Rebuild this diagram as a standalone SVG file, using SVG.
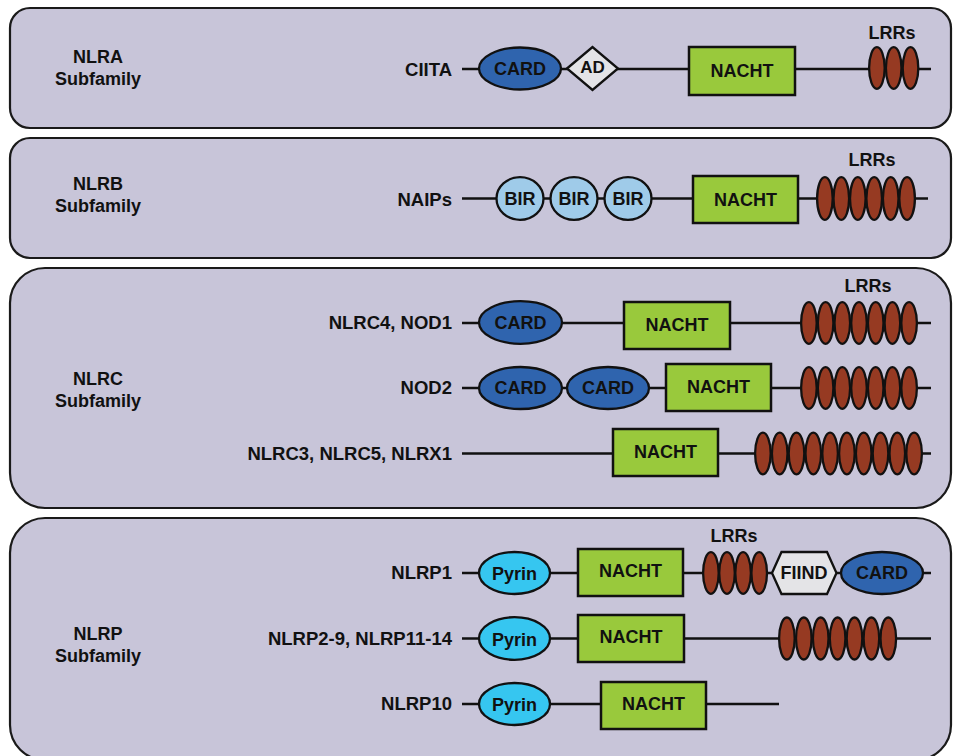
<svg xmlns="http://www.w3.org/2000/svg" width="953" height="756" viewBox="0 0 953 756">
<style>
  .panel { fill: #c8c5d9; stroke: #1a1a1a; stroke-width: 2.2; }
  .t { font-family: "Liberation Sans", Arial, sans-serif; font-weight: bold; font-size: 18px; fill: #111; }
  .fam { text-anchor: middle; }
  .lbl { text-anchor: end; font-size: 18.5px; }
  .c { text-anchor: middle; dominant-baseline: central; }
  .bb { stroke: #111; stroke-width: 2.5; fill: none; }
  .card { fill: #2f64ae; stroke: #111; stroke-width: 2.3; }
  .nacht { fill: #99c93c; stroke: #111; stroke-width: 2.5; }
  .lrr { fill: #963a22; stroke: #111; stroke-width: 2.3; }
  .bir { fill: #9fcbe9; stroke: #111; stroke-width: 2.3; }
  .pyrin { fill: #36c6f0; stroke: #111; stroke-width: 2.3; }
  .grey { fill: #e4e4e7; stroke: #111; stroke-width: 2.3; }
</style>

<g id="panels">
  <g id="panel-nlra">
    <rect class="panel" x="10" y="8" width="941" height="120" rx="20"/>
    <text class="t fam" x="98" y="63">NLRA</text>
    <text class="t fam" x="98" y="85">Subfamily</text>
  </g>
  <g id="panel-nlrb">
    <rect class="panel" x="10" y="138" width="941" height="120" rx="20"/>
    <text class="t fam" x="98" y="190">NLRB</text>
    <text class="t fam" x="98" y="212">Subfamily</text>
  </g>
  <g id="panel-nlrc">
    <rect class="panel" x="10" y="268" width="941" height="240" rx="35"/>
    <text class="t fam" x="98" y="385">NLRC</text>
    <text class="t fam" x="98" y="407">Subfamily</text>
  </g>
  <g id="panel-nlrp">
    <rect class="panel" x="10" y="518" width="941" height="242" rx="35"/>
    <text class="t fam" x="98" y="640">NLRP</text>
    <text class="t fam" x="98" y="662">Subfamily</text>
  </g>
</g>

<g id="connectors">
  <line class="bb" x1="462" y1="69" x2="931" y2="69"/>
  <line class="bb" x1="462" y1="198.5" x2="928" y2="198.5"/>
  <line class="bb" x1="462" y1="323" x2="931" y2="323"/>
  <line class="bb" x1="462" y1="388" x2="931" y2="388"/>
  <line class="bb" x1="462" y1="453.5" x2="931" y2="453.5"/>
  <line class="bb" x1="462" y1="573" x2="931" y2="573"/>
  <line class="bb" x1="462" y1="638.5" x2="931" y2="638.5"/>
  <line class="bb" x1="462" y1="704" x2="779" y2="704"/>
</g>

<g id="row-ciita">
  <text class="t lbl" x="452" y="76">CIITA</text>
  <g id="ciita-card"><ellipse class="card" cx="520" cy="68.5" rx="41" ry="21"/><text class="t c" x="520" y="68.5">CARD</text></g>
  <g id="ciita-ad"><polygon class="grey" points="567,68.5 592.5,47 618,68.5 592.5,90"/><text class="t c" x="592.5" y="67" style="font-size:17px">AD</text></g>
  <g id="ciita-nacht"><rect class="nacht" x="689" y="47" width="106" height="48"/><text class="t c" x="742" y="71">NACHT</text></g>
  <g id="ciita-lrrs">
    <text class="t fam" x="892" y="39">LRRs</text>
    <ellipse class="lrr" cx="876.9" cy="68" rx="7.8" ry="20.8"/>
    <ellipse class="lrr" cx="893.7" cy="68" rx="7.8" ry="20.8"/>
    <ellipse class="lrr" cx="910.5" cy="68" rx="7.8" ry="20.8"/>
  </g>
</g>

<g id="row-naips">
  <text class="t lbl" x="452" y="206">NAIPs</text>
  <g id="naips-bir1"><ellipse class="bir" cx="520" cy="198.5" rx="23.5" ry="21.3"/><text class="t c" x="520" y="199">BIR</text></g>
  <g id="naips-bir2"><ellipse class="bir" cx="574" cy="198.5" rx="23.5" ry="21.3"/><text class="t c" x="574" y="199">BIR</text></g>
  <g id="naips-bir3"><ellipse class="bir" cx="628" cy="198.5" rx="23.5" ry="21.3"/><text class="t c" x="628" y="199">BIR</text></g>
  <g id="naips-nacht"><rect class="nacht" x="693" y="176" width="105" height="47"/><text class="t c" x="745.5" y="200">NACHT</text></g>
  <g id="naips-lrrs">
    <text class="t fam" x="872" y="166">LRRs</text>
    <ellipse class="lrr" cx="824.9" cy="198.5" rx="7.8" ry="21.3"/>
    <ellipse class="lrr" cx="841.3" cy="198.5" rx="7.8" ry="21.3"/>
    <ellipse class="lrr" cx="857.8" cy="198.5" rx="7.8" ry="21.3"/>
    <ellipse class="lrr" cx="874.2" cy="198.5" rx="7.8" ry="21.3"/>
    <ellipse class="lrr" cx="890.7" cy="198.5" rx="7.8" ry="21.3"/>
    <ellipse class="lrr" cx="907.1" cy="198.5" rx="7.8" ry="21.3"/>
  </g>
</g>

<g id="row-nlrc4">
  <text class="t lbl" x="452" y="329">NLRC4, NOD1</text>
  <g id="nlrc4-card"><ellipse class="card" cx="520.5" cy="322.5" rx="41.5" ry="21.3"/><text class="t c" x="520.5" y="322.5">CARD</text></g>
  <g id="nlrc4-nacht"><rect class="nacht" x="624" y="302" width="106" height="47"/><text class="t c" x="677" y="325">NACHT</text></g>
  <g id="nlrc4-lrrs">
    <text class="t fam" x="868" y="292">LRRs</text>
    <ellipse class="lrr" cx="808.9" cy="323" rx="7.8" ry="20.8"/>
    <ellipse class="lrr" cx="825.6" cy="323" rx="7.8" ry="20.8"/>
    <ellipse class="lrr" cx="842.3" cy="323" rx="7.8" ry="20.8"/>
    <ellipse class="lrr" cx="859.0" cy="323" rx="7.8" ry="20.8"/>
    <ellipse class="lrr" cx="875.7" cy="323" rx="7.8" ry="20.8"/>
    <ellipse class="lrr" cx="892.4" cy="323" rx="7.8" ry="20.8"/>
    <ellipse class="lrr" cx="909.1" cy="323" rx="7.8" ry="20.8"/>
  </g>
</g>

<g id="row-nod2">
  <text class="t lbl" x="452" y="394">NOD2</text>
  <g id="nod2-card1"><ellipse class="card" cx="520.5" cy="388" rx="41.5" ry="21"/><text class="t c" x="520.5" y="388">CARD</text></g>
  <g id="nod2-card2"><ellipse class="card" cx="608" cy="388" rx="41" ry="21"/><text class="t c" x="608" y="388">CARD</text></g>
  <g id="nod2-nacht"><rect class="nacht" x="666" y="364" width="105" height="47"/><text class="t c" x="718.5" y="387">NACHT</text></g>
  <g id="nod2-lrrs">
    <ellipse class="lrr" cx="808.9" cy="388" rx="7.8" ry="20.8"/>
    <ellipse class="lrr" cx="825.6" cy="388" rx="7.8" ry="20.8"/>
    <ellipse class="lrr" cx="842.3" cy="388" rx="7.8" ry="20.8"/>
    <ellipse class="lrr" cx="859.0" cy="388" rx="7.8" ry="20.8"/>
    <ellipse class="lrr" cx="875.7" cy="388" rx="7.8" ry="20.8"/>
    <ellipse class="lrr" cx="892.4" cy="388" rx="7.8" ry="20.8"/>
    <ellipse class="lrr" cx="909.1" cy="388" rx="7.8" ry="20.8"/>
  </g>
</g>

<g id="row-nlrc3">
  <text class="t lbl" x="452" y="460">NLRC3, NLRC5, NLRX1</text>
  <g id="nlrc3-nacht"><rect class="nacht" x="613" y="429" width="105" height="47"/><text class="t c" x="665.5" y="452">NACHT</text></g>
  <g id="nlrc3-lrrs">
    <ellipse class="lrr" cx="762.9" cy="453.5" rx="7.8" ry="20.8"/>
    <ellipse class="lrr" cx="779.7" cy="453.5" rx="7.8" ry="20.8"/>
    <ellipse class="lrr" cx="796.5" cy="453.5" rx="7.8" ry="20.8"/>
    <ellipse class="lrr" cx="813.3" cy="453.5" rx="7.8" ry="20.8"/>
    <ellipse class="lrr" cx="830.1" cy="453.5" rx="7.8" ry="20.8"/>
    <ellipse class="lrr" cx="846.9" cy="453.5" rx="7.8" ry="20.8"/>
    <ellipse class="lrr" cx="863.7" cy="453.5" rx="7.8" ry="20.8"/>
    <ellipse class="lrr" cx="880.5" cy="453.5" rx="7.8" ry="20.8"/>
    <ellipse class="lrr" cx="897.3" cy="453.5" rx="7.8" ry="20.8"/>
    <ellipse class="lrr" cx="914.1" cy="453.5" rx="7.8" ry="20.8"/>
  </g>
</g>

<g id="row-nlrp1">
  <text class="t lbl" x="452" y="579">NLRP1</text>
  <g id="nlrp1-pyrin"><ellipse class="pyrin" cx="514.5" cy="573" rx="35.5" ry="21"/><text class="t c" x="514.5" y="574">Pyrin</text></g>
  <g id="nlrp1-nacht"><rect class="nacht" x="578" y="549" width="105" height="47"/><text class="t c" x="630.5" y="571">NACHT</text></g>
  <g id="nlrp1-lrrs">
    <text class="t fam" x="734" y="542">LRRs</text>
    <ellipse class="lrr" cx="710.9" cy="573" rx="7.8" ry="20.8"/>
    <ellipse class="lrr" cx="727.0" cy="573" rx="7.8" ry="20.8"/>
    <ellipse class="lrr" cx="743.1" cy="573" rx="7.8" ry="20.8"/>
    <ellipse class="lrr" cx="759.2" cy="573" rx="7.8" ry="20.8"/>
  </g>
  <g id="nlrp1-fiind"><polygon class="grey" points="772,573 781.5,552 827,552 836.5,573 827,594 781.5,594"/><text class="t c" x="804" y="573">FIIND</text></g>
  <g id="nlrp1-card"><ellipse class="card" cx="882" cy="573" rx="41" ry="21"/><text class="t c" x="882" y="573">CARD</text></g>
</g>

<g id="row-nlrp2">
  <text class="t lbl" x="452" y="645">NLRP2-9, NLRP11-14</text>
  <g id="nlrp2-pyrin"><ellipse class="pyrin" cx="514.5" cy="638.5" rx="35.5" ry="21.3"/><text class="t c" x="514.5" y="639.5">Pyrin</text></g>
  <g id="nlrp2-nacht"><rect class="nacht" x="578" y="615" width="106" height="47"/><text class="t c" x="631" y="637">NACHT</text></g>
  <g id="nlrp2-lrrs">
    <ellipse class="lrr" cx="786.9" cy="638.5" rx="7.8" ry="21"/>
    <ellipse class="lrr" cx="803.8" cy="638.5" rx="7.8" ry="21"/>
    <ellipse class="lrr" cx="820.7" cy="638.5" rx="7.8" ry="21"/>
    <ellipse class="lrr" cx="837.6" cy="638.5" rx="7.8" ry="21"/>
    <ellipse class="lrr" cx="854.5" cy="638.5" rx="7.8" ry="21"/>
    <ellipse class="lrr" cx="871.4" cy="638.5" rx="7.8" ry="21"/>
    <ellipse class="lrr" cx="888.3" cy="638.5" rx="7.8" ry="21"/>
  </g>
</g>

<g id="row-nlrp10">
  <text class="t lbl" x="452" y="710">NLRP10</text>
  <g id="nlrp10-pyrin"><ellipse class="pyrin" cx="514.5" cy="704" rx="35.5" ry="21"/><text class="t c" x="514.5" y="705">Pyrin</text></g>
  <g id="nlrp10-nacht"><rect class="nacht" x="601" y="682" width="105" height="47"/><text class="t c" x="653.5" y="704">NACHT</text></g>
</g>
</svg>
